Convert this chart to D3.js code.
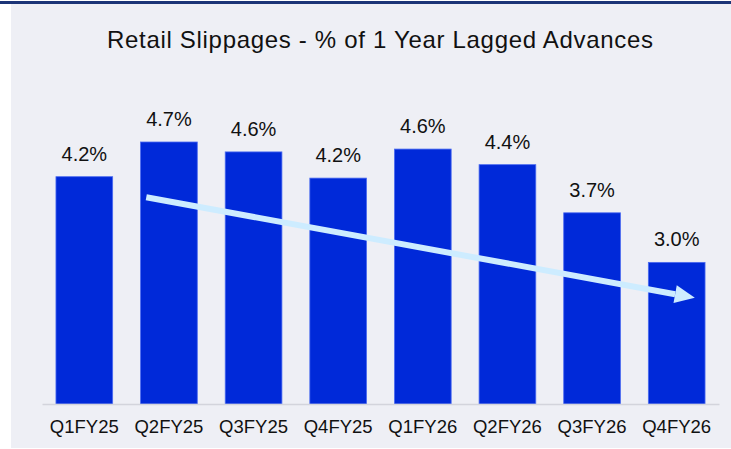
<!DOCTYPE html>
<html>
<head>
<meta charset="UTF-8">
<title>Retail Slippages</title>
<script src="https://d3js.org/d3.v7.min.js"></script>
<style>
  body { margin: 0; background: #fff; }
  svg { display: block; font-family: "Liberation Sans", Arial, sans-serif; }
</style>
</head>
<body>
<svg id="chart"></svg>
<script>
// data
const quarters = ["Q1FY25", "Q2FY25", "Q3FY25", "Q4FY25", "Q1FY26", "Q2FY26", "Q3FY26", "Q4FY26"];
const slippages = [4.21, 4.70, 4.56, 4.19, 4.60, 4.38, 3.70, 3.00];
const titleText = "Retail Slippages - % of 1 Year Lagged Advances";
// trend arrow, from Q2FY25 to Q4FY26
const trendFrom = { q: "Q2FY25", v: 3.92 };
const trendTo = { q: "Q4FY26", v: 2.50 };

const width = 731, height = 449;
const svg = d3.select("#chart").attr("width", width).attr("height", height);

// panel + top rule
svg.append("rect").attr("x", 11).attr("y", 4).attr("width", width - 11).attr("height", 444)
  .attr("fill", "#eeeff5");
svg.append("rect").attr("x", 0).attr("y", 1).attr("width", width).attr("height", 3)
  .attr("fill", "#1b3477");

const x = d3.scaleBand().domain(quarters).range([42, 719]).paddingInner(0.33).paddingOuter(0.165);
const y = d3.scaleLinear().domain([1, 4.7]).range([404, 142]);

svg.append("text")
  .attr("x", 380).attr("y", 48)
  .attr("text-anchor", "middle")
  .attr("font-size", 24)
  .attr("textLength", 546)
  .attr("lengthAdjust", "spacing")
  .attr("fill", "#111")
  .text(titleText);

// bars
svg.selectAll(".bar").data(quarters).join("rect")
  .attr("class", "bar")
  .attr("x", d => x(d))
  .attr("width", x.bandwidth())
  .attr("y", (d, i) => y(slippages[i]))
  .attr("height", (d, i) => y(1) - y(slippages[i]))
  .attr("fill", "#0029d9")
  .attr("stroke", "#4a6af0")
  .attr("stroke-width", 0.8);

// value labels
svg.selectAll(".val").data(quarters).join("text")
  .attr("class", "val")
  .attr("x", d => x(d) + x.bandwidth() / 2)
  .attr("y", (d, i) => y(slippages[i]) - 16)
  .attr("text-anchor", "middle")
  .attr("font-size", 20)
  .attr("fill", "#111")
  .text((d, i) => d3.format(".1f")(slippages[i]) + "%");

// x axis
const xAxis = svg.append("g").attr("transform", "translate(0,404)")
  .call(d3.axisBottom(x).tickSize(0).tickPadding(16));
xAxis.select(".domain").attr("stroke", "#d3d4dc").attr("stroke-width", 1.5);
xAxis.selectAll("text").attr("font-size", 18.5).attr("fill", "#111")
  .attr("font-family", "Liberation Sans, Arial, sans-serif");

// trend arrow
const x1 = x(trendFrom.q) + x.bandwidth() * 0.1, y1 = y(trendFrom.v);
const x2 = x(trendTo.q) + x.bandwidth() * 0.82, y2 = y(trendTo.v);
const ang = Math.atan2(y2 - y1, x2 - x1);
const headLen = 20, headW = 9;
const bx = x2 - headLen * Math.cos(ang), by = y2 - headLen * Math.sin(ang);
const arrowColor = "#cdecff";
svg.append("line")
  .attr("x1", x1).attr("y1", y1).attr("x2", bx).attr("y2", by)
  .attr("stroke", arrowColor).attr("stroke-width", 6);
svg.append("path")
  .attr("d", d3.line()([
    [x2, y2],
    [bx + headW * Math.sin(ang), by - headW * Math.cos(ang)],
    [bx - headW * Math.sin(ang), by + headW * Math.cos(ang)]
  ]) + "Z")
  .attr("fill", arrowColor);
</script>
</body>
</html>
